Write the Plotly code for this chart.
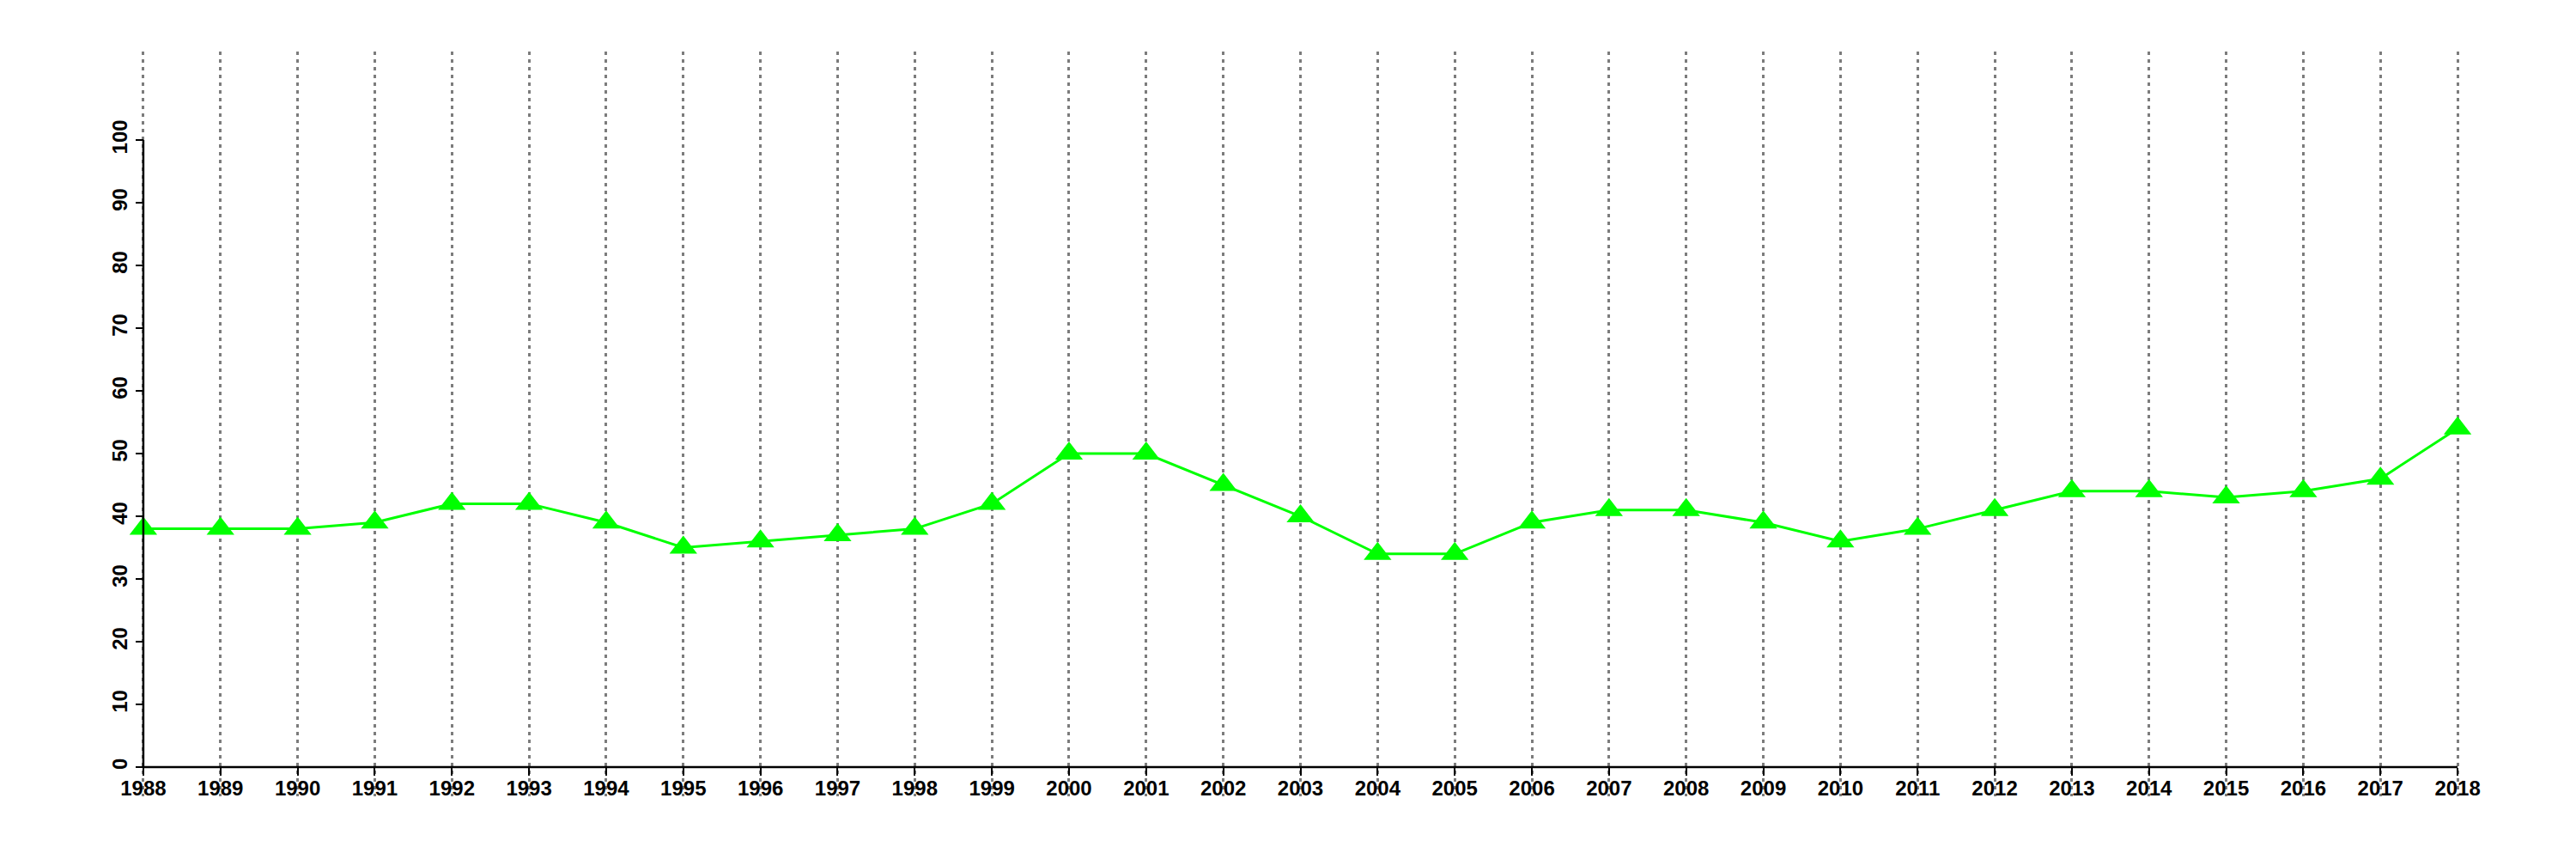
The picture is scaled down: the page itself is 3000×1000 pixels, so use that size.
import plotly.graph_objects as go

years = list(range(1988, 2019))
values = [38, 38, 38, 39, 42, 42, 39, 35, 36, 37, 38, 42, 50, 50, 45, 40,
          34, 34, 39, 41, 41, 39, 36, 38, 41, 44, 44, 43, 44, 46, 54]
y_ticks = list(range(0, 101, 10))

W, H = 3000, 1000
OFF = 8  # page body margin offset in the browser
# target pixel layout (screen coordinates)
px_left_year, px_right_year = 166.7 - OFF, 2862.0 - OFF
px_per_year = (px_right_year - px_left_year) / (years[-1] - years[0])
x_pad = 0.5
plot_x0 = px_left_year - x_pad * px_per_year
plot_x1 = px_right_year + x_pad * px_per_year
plot_y_top, plot_y_bot = 60 - OFF, 927 - OFF
px_y0, px_y100 = 893.0 - OFF, 163.0 - OFF
px_per_unit = (px_y0 - px_y100) / 100.0
y_lo = -(plot_y_bot - px_y0) / px_per_unit
y_hi = 100 + (px_y100 - plot_y_top) / px_per_unit

font = dict(family="Liberation Sans, Arial, sans-serif", size=24, color="black", weight="bold")

fig = go.Figure()
fig.add_trace(go.Scatter(
    x=years, y=values, mode="lines+markers",
    line=dict(color="#00ff00", width=3),
    marker=dict(symbol="triangle-up", size=28, color="#00ff00", line=dict(width=0)),
    cliponaxis=False, showlegend=False,
))

# axis lines (R style: only over the data span)
fig.add_shape(type="line", xref="x", yref="y", x0=years[0], x1=years[0], y0=y_ticks[0], y1=y_ticks[-1],
              line=dict(color="black", width=2.5), layer="above")
fig.add_shape(type="line", xref="x", yref="y", x0=years[0], x1=years[-1], y0=y_ticks[0], y1=y_ticks[0],
              line=dict(color="black", width=2.5), layer="above")

plot_w = plot_x1 - plot_x0
plot_h = plot_y_bot - plot_y_top
fig.update_layout(
    width=W, height=H,
    margin=dict(l=plot_x0, r=W - plot_x1, t=plot_y_top, b=H - plot_y_bot, pad=0),
    paper_bgcolor="white", plot_bgcolor="white",
    font=font,
    xaxis=dict(
        range=[years[0] - x_pad, years[-1] + x_pad],
        tickvals=years, ticktext=[str(y) for y in years],
        anchor="free", position=(plot_y_bot - px_y0) / plot_h,
        showline=False, zeroline=False,
        ticks="outside", ticklen=9, tickwidth=2, tickcolor="black",
        ticklabelstandoff=-6,
        showgrid=True, gridcolor="#7c7c7c", gridwidth=2.5, griddash="4px,5px",
        tickfont=font,
    ),
    yaxis=dict(
        range=[y_lo, y_hi],
        tickvals=y_ticks, ticktext=[str(v) for v in y_ticks],
        anchor="free", position=(px_left_year - plot_x0) / plot_w,
        showline=False, zeroline=False, showgrid=False,
        ticks="outside", ticklen=9, tickwidth=2, tickcolor="black",
        tickangle=-90, tickfont=font,
    ),
)

fig.write_html("out.html")
